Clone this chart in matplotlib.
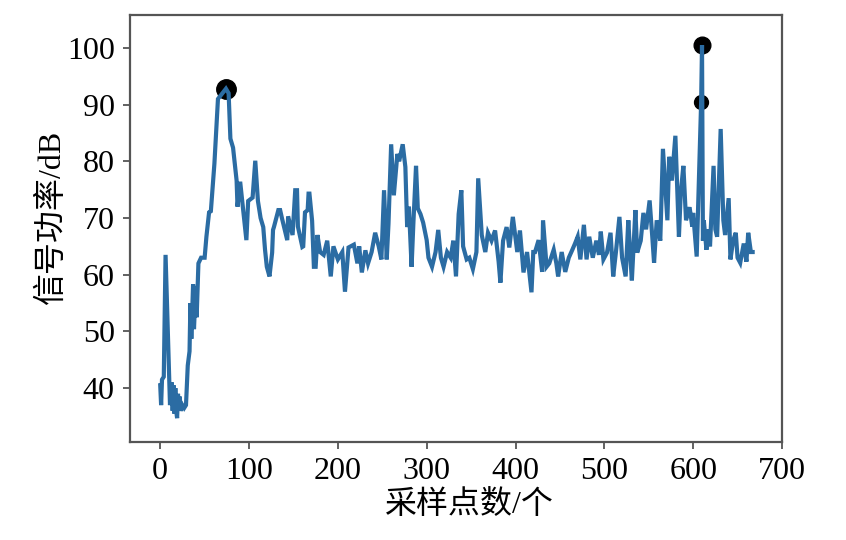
"""
Signal power over sample index, with the two peaks marked.
"""
import matplotlib

matplotlib.use("Agg")
import matplotlib.pyplot as plt

# sample index and power (dB)
sample_idx = [
    0, 1, 2, 4, 6, 11, 13, 14, 15, 16, 17, 18, 19, 20, 21, 22, 23, 25, 27, 29,
    31, 33, 34, 35, 37, 38, 40, 41, 43, 46, 50, 52, 55, 57, 61, 65, 70, 74, 77,
    79, 82, 86, 87, 90, 93, 97, 99, 104, 107, 110, 113, 116, 118, 120, 123,
    126, 127, 128, 133, 135, 137, 141, 143, 144, 149, 152, 154, 155, 160, 161,
    163, 166, 167, 168, 171, 173, 175, 177, 180, 184, 188, 192, 195, 200, 205,
    208, 212, 218, 222, 224, 227, 231, 234, 238, 242, 246, 249, 252, 255, 257,
    260, 263, 267, 269, 273, 276, 278, 280, 283, 285, 288, 290, 293, 296, 300,
    302, 306, 310, 313, 316, 319, 323, 327, 330, 333, 336, 339, 341, 345, 348,
    352, 356, 358, 362, 366, 369, 373, 377, 381, 383, 386, 390, 393, 397, 402,
    405, 409, 413, 418, 420, 422, 426, 430, 431, 435, 438, 443, 446, 448, 452,
    456, 460, 464, 467, 470, 473, 477, 480, 483, 487, 491, 494, 496, 499, 503,
    507, 510, 513, 517, 520, 524, 527, 529, 531, 535, 537, 541, 544, 547, 551,
    554, 556, 559, 563, 566, 571, 573, 576, 580, 584, 586, 589, 592, 596, 599,
    600, 604, 609, 610, 611, 612, 615, 617, 619, 623, 625, 627, 631, 634, 636,
    640, 642, 645, 648, 650, 653, 657, 660, 662, 665, 667,
]
power_db = [
    40.5, 37.0, 41.5, 42.0, 63.5, 37.0, 41.0, 36.0, 40.5, 35.5, 40.0, 36.0,
    34.7, 39.0, 36.0, 38.5, 36.0, 37.0, 36.5, 37.0,
    44.0, 46.5, 55.0, 48.7, 58.3, 50.4, 58.0, 52.5, 62.0, 63.0, 63.0, 66.7,
    71.0, 71.2, 79.6, 91.0, 92.0, 92.8, 92.0,
    84.0, 82.4, 76.6, 72.0, 76.4, 72.0, 66.1, 73.0, 73.6, 80.1, 73.0, 70.0,
    68.4, 64.4, 61.4, 59.7,
    63.9, 67.9, 68.4, 71.4, 71.4, 70.0, 67.4, 66.1, 70.3, 67.0, 74.9, 74.9,
    68.5, 64.9, 65.0,
    71.0, 71.4, 74.3, 74.3, 69.5, 61.4, 61.4, 67.0, 64.0, 63.5, 66.0, 59.7,
    65.0, 62.7, 64.0,
    57.0, 64.8, 65.3, 62.0, 65.0, 60.4, 64.3, 62.0, 64.0, 67.4, 65.0, 62.7,
    74.9, 62.7, 69.0,
    83.0, 74.0, 81.3, 80.0, 83.0, 79.0, 68.4, 72.0, 61.4, 69.0, 79.2, 71.7,
    70.7, 69.2, 66.1,
    63.0, 61.4, 64.0, 67.9, 63.0, 61.4, 64.0, 63.0, 66.0, 59.7, 70.7, 74.9,
    65.0, 62.7, 63.0,
    61.0, 64.0, 77.0, 67.0, 64.0, 67.4, 66.0, 67.8, 62.3, 58.6, 66.0, 68.4,
    64.8, 70.2, 64.0,
    67.8, 60.4, 64.0, 56.9, 64.0, 64.0, 66.1, 60.5, 69.6, 61.4, 62.0, 64.4,
    62.0, 59.7, 64.0,
    60.5, 63.0, 64.4, 65.5, 66.7, 62.7, 68.8, 62.7, 66.7, 63.0, 66.0, 63.5,
    67.6, 62.7, 63.9,
    67.4, 59.7, 63.9, 70.2, 63.0, 59.7, 69.6, 64.0, 59.0, 71.4, 63.9, 66.0,
    70.9, 68.0, 73.1,
    66.7, 62.1, 69.6, 66.0, 82.2, 69.6, 80.8, 76.6, 84.5, 66.7, 74.3, 79.2,
    69.6, 71.9, 68.5,
    70.9, 63.2, 90.4, 100.5, 66.0, 69.6, 64.4, 68.0, 65.0, 79.2, 68.0, 66.7,
    85.7, 69.6, 67.0,
    73.5, 62.7, 66.0, 67.4, 63.0, 62.1, 65.5, 62.3, 67.4, 64.0, 64.0,
]

# marked peaks
peak_idx = [74, 610, 609]
peak_db = [92.8, 100.5, 90.4]
peak_size = [14, 12, 10]

plt.rcParams["font.family"] = ["Liberation Serif", "Noto Sans CJK SC"]
plt.rcParams["font.size"] = 23

fig = plt.figure(figsize=(8.46, 5.4), dpi=100)
ax = fig.add_axes([0.1537, 0.1815, 0.7706, 0.7907])

for i in range(len(peak_idx)):
    ax.plot(peak_idx[i], peak_db[i], "o", color="black",
            markersize=peak_size[i], zorder=2)
ax.plot(sample_idx, power_db, color="#2b6ca3", linewidth=3.0, zorder=3,
        solid_joinstyle="miter")

ax.set_xlim(-34, 700)
ax.set_ylim(30.5, 105.8)
ax.set_xticks([0, 100, 200, 300, 400, 500, 600, 700])
ax.set_yticks([40, 50, 60, 70, 80, 90, 100])

for s in ax.spines.values():
    s.set_color("#555555")
    s.set_linewidth(1.6)
ax.tick_params(colors="#555555", labelcolor="black", width=1.3, length=5,
               pad=6)

ax.set_xlabel("采样点数/个")
ax.xaxis.set_label_coords(0.521, -0.112)
ax.set_ylabel("信号功率/dB")
ax.yaxis.set_label_coords(-0.097, 0.527)

fig.savefig("out.png", dpi=100)
plt.close(fig)
